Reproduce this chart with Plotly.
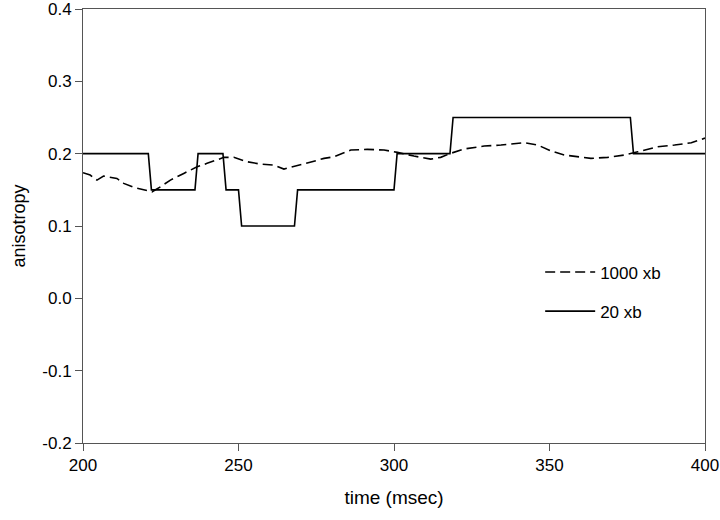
import plotly.graph_objects as go

# 20 xb (step-like solid line)
t_20 = [200, 221, 222, 236, 237, 245, 246, 250, 251, 268, 269, 300, 301, 318, 319, 376, 377, 400]
a_20 = [0.20, 0.20, 0.15, 0.15, 0.20, 0.20, 0.15, 0.15, 0.10, 0.10, 0.15, 0.15, 0.20, 0.20, 0.25, 0.25, 0.20, 0.20]

# 1000 xb (dashed line)
t_1000 = [200, 202.3, 204.5, 206.6, 210.9, 213.1, 216.3, 219.5, 222.2, 224.9, 228.1, 232.4,
          236.7, 239.9, 245.3, 248.5, 252.8, 257.1, 261.4, 264.6, 267.8, 272.1, 277.5, 280.7,
          286.1, 291.4, 296.8, 301.1, 306.4, 311.8, 315.0, 318.2, 322.5, 329.0, 334.4, 341.9,
          346.2, 350.4, 354.7, 359.0, 363.3, 368.7, 374.0, 378.4, 384.8, 390.2, 395.6, 400]
a_1000 = [0.1736, 0.1704, 0.1635, 0.1690, 0.1658, 0.1589, 0.1534, 0.1506, 0.1473, 0.1542, 0.1635, 0.1727,
          0.1819, 0.1866, 0.1949, 0.1949, 0.1888, 0.1856, 0.1842, 0.1787, 0.1819, 0.1870, 0.1935, 0.1957,
          0.2050, 0.2060, 0.2050, 0.2018, 0.1967, 0.1925, 0.1949, 0.2004, 0.2064, 0.2105, 0.2119, 0.2151,
          0.2119, 0.2040, 0.1981, 0.1957, 0.1935, 0.1949, 0.1981, 0.2026, 0.2096, 0.2119, 0.2151, 0.2215]

x_ticks = [200, 250, 300, 350, 400]
y_ticks = [-0.2, -0.1, 0.0, 0.1, 0.2, 0.3, 0.4]
y_tick_labels = ["-0.2", "-0.1", "0.0", "0.1", "0.2", "0.3", "0.4"]

FONT = "Liberation Sans, Arial, sans-serif"
AXIS_COLOR = "#555555"

fig = go.Figure()
fig.add_trace(go.Scatter(
    x=t_1000, y=a_1000, mode="lines", name="1000 xb", legendgroup="g1",
    line=dict(color="black", width=1.6, dash="10px,5px"),
))
fig.add_trace(go.Scatter(
    x=t_20, y=a_20, mode="lines", name="20 xb", legendgroup="g2",
    line=dict(color="black", width=1.6),
))

axis_common = dict(
    showline=True, linecolor=AXIS_COLOR, linewidth=1, mirror=True,
    ticks="outside", ticklen=7, tickcolor=AXIS_COLOR, tickwidth=1,
    showgrid=False, zeroline=False, automargin=False,
    ticklabeloverflow="allow",
    tickfont=dict(family=FONT, size=17, color="black"),
)

fig.update_layout(
    width=720, height=520,
    margin=dict(l=83, r=15, t=9, b=77),
    paper_bgcolor="white", plot_bgcolor="white",
    font=dict(family=FONT, size=17, color="black"),
    xaxis=dict(range=[200, 400], tickvals=x_ticks,
               title=dict(text="time (msec)", font=dict(family=FONT, size=19), standoff=16),
               **axis_common),
    yaxis=dict(range=[-0.2, 0.4], tickvals=y_ticks, ticktext=y_tick_labels,
               title=dict(text="anisotropy", font=dict(family=FONT, size=18), standoff=12),
               **axis_common),
    legend=dict(
        x=0.735, y=0.348, xanchor="left", yanchor="middle",
        bgcolor="rgba(0,0,0,0)", borderwidth=0,
        traceorder="grouped", tracegroupgap=14, itemwidth=50,
        font=dict(family=FONT, size=17, color="black"),
    ),
)

fig.write_html(
    "out.html",
    config={"displayModeBar": False},
    post_script="document.body.style.margin='0';document.body.style.overflow='hidden';",
)
